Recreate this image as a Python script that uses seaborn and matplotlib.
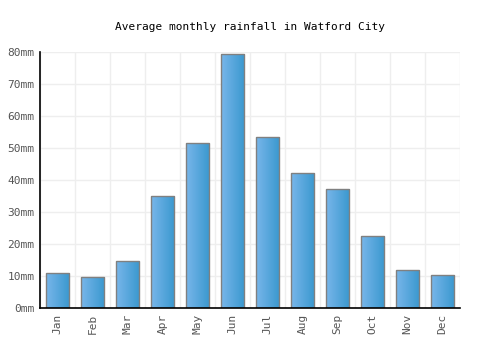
import numpy as np
import pandas as pd
import matplotlib
matplotlib.use("Agg")
import matplotlib.pyplot as plt
import seaborn as sns
from matplotlib.colors import LinearSegmentedColormap

months = ["Jan", "Feb", "Mar", "Apr", "May", "Jun", "Jul", "Aug", "Sep", "Oct", "Nov", "Dec"]
rainfall = [10.9, 9.6, 14.6, 35.0, 51.6, 79.5, 53.5, 42.2, 37.2, 22.4, 11.8, 10.2]
yticks = [0, 10, 20, 30, 40, 50, 60, 70, 80]
ytick_labels = [f"{v}mm" for v in yticks]
title = "Average monthly rainfall in Watford City"

sns.set_theme(style="white")
plt.rcParams['font.family'] = ['DejaVu Sans Mono']

fig = plt.figure(figsize=(5, 3.5), dpi=100)
ax = fig.add_axes([0.08, 0.12, 0.84, 0.731])

df = pd.DataFrame({"month": months, "rain": rainfall})
sns.barplot(data=df, x="month", y="rain", ax=ax, width=0.67,
            color="#55a8e0", edgecolor="#808080", linewidth=1.0, saturation=1)

cmap = LinearSegmentedColormap.from_list("g", ["#78b6ea", "#3a98cf"])
grad = np.linspace(0, 1, 64).reshape(1, -1)
for p in ax.patches:
    x0, y0 = p.get_x(), p.get_y()
    w, h = p.get_width(), p.get_height()
    im = ax.imshow(grad, cmap=cmap, aspect="auto", extent=[x0, x0 + w, y0, y0 + h],
                   zorder=p.get_zorder() + 0.1, interpolation="bilinear")
    im.set_clip_path(p)
    p.set_facecolor("none")
    p.set_zorder(p.get_zorder() + 0.2)

ax.set_xlim(-0.5, 11.5)
ax.set_ylim(0, 80)
ax.set_yticks(yticks)
ax.set_yticklabels(ytick_labels)
ax.set_xticks(range(len(months)))
ax.set_xticklabels(months, rotation=90)
ax.set_xticks(np.arange(-0.5, 12, 1), minor=True)
ax.grid(False)
ax.grid(True, axis="y", which="major", color="#eeeeee", linewidth=1)
ax.grid(True, axis="x", which="minor", color="#eeeeee", linewidth=1)
ax.set_axisbelow(True)
ax.tick_params(axis="both", which="both", length=0, labelsize=8, colors="#555555", pad=4)
ax.set_xlabel("")
ax.set_ylabel("")
for s in ["top", "right"]:
    ax.spines[s].set_visible(False)
for s in ["left", "bottom"]:
    ax.spines[s].set_color("black")
    ax.spines[s].set_linewidth(1.2)
    ax.spines[s].set_zorder(5)

fig.text(0.5, 1 - 27 / 350, title, ha="center", va="center", fontsize=8, color="black")

fig.savefig("out.png", dpi=100)
